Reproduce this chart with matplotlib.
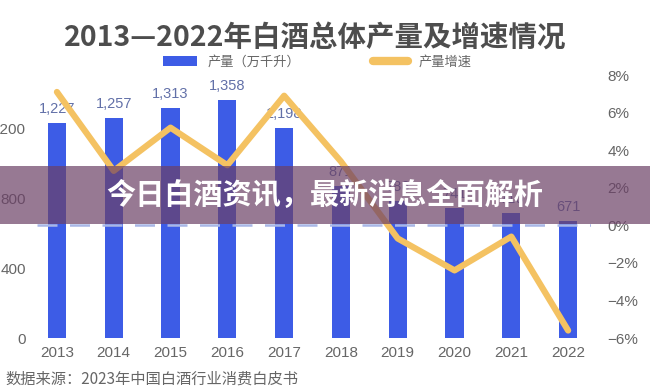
import matplotlib.pyplot as plt
from matplotlib.patches import Patch, Rectangle
from matplotlib.lines import Line2D
from matplotlib.ticker import FuncFormatter

plt.rcParams['font.family'] = ['Noto Sans CJK SC', 'DejaVu Sans']

# 数据
years = ['2013', '2014', '2015', '2016', '2017', '2018', '2019', '2020', '2021', '2022']
output = [1227, 1257, 1313, 1358, 1198, 871, 786, 741, 716, 671]       # 万千升
growth = [7.1, 2.9, 5.2, 3.2, 6.9, 3.4, -0.7, -2.4, -0.6, -5.6]         # %
left_ticks = [0, 400, 800, 1200]
right_ticks = [-6, -4, -2, 0, 2, 4, 6, 8]

title = '2013—2022年白酒总体产量及增速情况'
banner = '今日白酒资讯，最新消息全面解析'
source = '数据来源：2023年中国白酒行业消费白皮书'

BLUE = '#3D5CE6'
YELLOW = '#F4C262'
GREY = '#666666'
num_font = ['Liberation Sans', 'DejaVu Sans']

fig = plt.figure(figsize=(6.5, 3.91), dpi=100)
ax = fig.add_axes([0.057, 0.1355, 0.852, 0.6725])
ax2 = ax.twinx()

x = range(len(years))
ax.bar(x, output, width=0.32, color=BLUE, zorder=2)
for i, v in zip(x, output):
    ax.text(i, v + 40, f'{v:,}', ha='center', va='bottom', fontsize=10.5,
            color='#6270A8', family=num_font)

ax.set_xlim(-0.35, 9.4)
ax.set_ylim(0, 1503)
ax.set_yticks(left_ticks)
ax.set_xticks(list(x))
ax.set_xticklabels(years)

ax2.axhline(0, color='#A8B6E6', lw=1.8, dashes=(8, 5), zorder=1)
ax2.plot(list(x), growth, color=YELLOW, lw=4.5, solid_capstyle='round',
         solid_joinstyle='round', zorder=3)
ax2.set_ylim(-6, 8)
ax2.set_yticks(right_ticks)
ax2.yaxis.set_major_formatter(FuncFormatter(lambda v, p: f'{v:.0f}%'.replace('-', '−')))

for a in (ax, ax2):
    for s in a.spines.values():
        s.set_visible(False)
    a.tick_params(length=0, labelsize=11, colors=GREY)
    for lab in a.get_xticklabels() + a.get_yticklabels():
        lab.set_family(num_font)
ax.tick_params(axis='y', pad=8)
ax.tick_params(axis='x', pad=6)
ax2.tick_params(axis='y', pad=12)

# 标题与图例
fig.text(0.485, 1 - 38 / 391, title, ha='center', va='center', fontsize=20.5,
         fontweight='bold', color='#4D4D4D')
handles = [Patch(facecolor=BLUE, edgecolor='none'),
           Line2D([0], [0], color=YELLOW, lw=6, solid_capstyle='round')]
fig.legend(handles, ['产量（万千升）', '产量增速'], loc='center',
           bbox_to_anchor=(0.488, 1 - 62 / 391), ncol=2, frameon=False,
           fontsize=9.5, handlelength=2.6, handleheight=0.7, columnspacing=5.5,
           labelcolor=GREY)

# 横幅
fig.add_artist(Rectangle((0, 1 - 224 / 391), 1, 58 / 391, transform=fig.transFigure,
                         facecolor=(0.42, 0.25, 0.40), alpha=0.7, edgecolor='none',
                         zorder=5))
fig.text(0.5, 1 - 195 / 391, banner, ha='center', va='center', fontsize=21,
         fontweight='bold', color='white', zorder=6)

fig.text(0.008, 1 - 379 / 391, source, ha='left', va='center', fontsize=11,
         color=GREY)

fig.savefig('out.png', dpi=100)
